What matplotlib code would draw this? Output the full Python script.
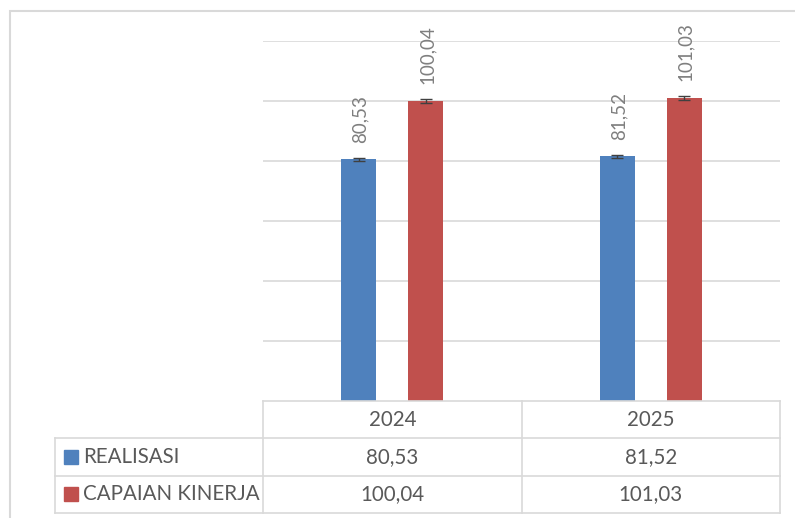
import matplotlib
matplotlib.use("Agg")
import matplotlib.pyplot as plt
from matplotlib.patches import Rectangle
from matplotlib.transforms import offset_copy
import numpy as np

# data
years = ["2024", "2025"]
series_names = ["REALISASI", "CAPAIAN KINERJA"]
realisasi = [80.53, 81.52]
capaian = [100.04, 101.03]
error = [0.6, 0.6]
colors = ["#4F81BD", "#C0504D"]

plt.rcParams["font.family"] = ["Lato", "DejaVu Sans"]

W, H = 795, 518
fig = plt.figure(figsize=(W / 100, H / 100), dpi=100)

def frac(x0, y0, x1, y1):
    # pixel box -> figure fraction
    return [x0 / W, (H - y1) / H, (x1 - x0) / W, (y1 - y0) / H]

# outer chart border (cut off on right/bottom)
fig.add_artist(Rectangle((10 / W, -0.1), 1.2, 1 - 11 / H + 0.1, transform=fig.transFigure,
                         fill=False, edgecolor="#D9D9D9", linewidth=1.5))

ax = fig.add_axes(frac(263, 41, 780, 401))
x = np.arange(len(years))
offset = 0.13
width = 0.135
values = [realisasi, capaian]
for i, (vals, c) in enumerate(zip(values, colors)):
    pos = x + (offset if i else -offset)
    ax.bar(pos, vals, width=width, color=c, zorder=3)
    ax.errorbar(pos, vals, yerr=error, fmt="none", ecolor="#404040",
                elinewidth=1, capsize=4, capthick=1, zorder=4)
    for px, v in zip(pos, vals):
        ax.annotate(f"{v:.2f}".replace(".", ","), (px, v), xytext=(1, 12),
                    textcoords="offset points", rotation=90, ha="center",
                    va="bottom", fontsize=13.5, color="#7F7F7F")

ax.set_xlim(-0.5, 1.5)
ax.set_ylim(0, 120)
for gy in range(20, 121, 20):
    ax.axhline(gy, color="#D9D9D9", linewidth=1.2, zorder=1)
ax.set_xticks([])
ax.set_yticks([])
for s in ax.spines.values():
    s.set_visible(False)

# data table below the chart
label_w = 208 / 258.5
tab = fig.add_axes(frac(55, 401, 780, 513))
tab.set_xlim(-0.5 - label_w, 1.5)
tab.set_ylim(0, 3)
tab.axis("off")
lc = "#D9D9D9"
left = -0.5 - label_w
for yy in [0, 1, 2]:
    tab.plot([left, 1.5], [yy, yy], color=lc, lw=1.2, clip_on=False)
tab.plot([-0.5, 1.5], [3, 3], color=lc, lw=1.2, clip_on=False)
tab.plot([left, left], [0, 2], color=lc, lw=1.2, clip_on=False)
for xx in np.arange(len(years) + 1) - 0.5:
    tab.plot([xx, xx], [0, 3], color=lc, lw=1.2, clip_on=False)

tc = "#595959"
fs = 14.8
for i, yr in enumerate(years):
    tab.text(i, 2.5, yr, ha="center", va="center", fontsize=fs, color=tc)
for r, (name, vals, c) in enumerate(zip(series_names, values, colors)):
    ry = 1.5 - r
    key_tr = offset_copy(tab.transData, fig=fig, x=16 * 0.72, y=0, units="points")
    tab.plot([left], [ry], marker="s", markersize=10, color=c, transform=key_tr,
             clip_on=False)
    txt_tr = offset_copy(tab.transData, fig=fig, x=28 * 0.72, y=0, units="points")
    tab.text(left, ry, name, ha="left", va="center", fontsize=fs, color=tc,
             transform=txt_tr)
    for i, v in enumerate(vals):
        tab.text(i, ry, f"{v:.2f}".replace(".", ","), ha="center", va="center",
                 fontsize=fs, color=tc)

fig.savefig("out.png", dpi=100)
